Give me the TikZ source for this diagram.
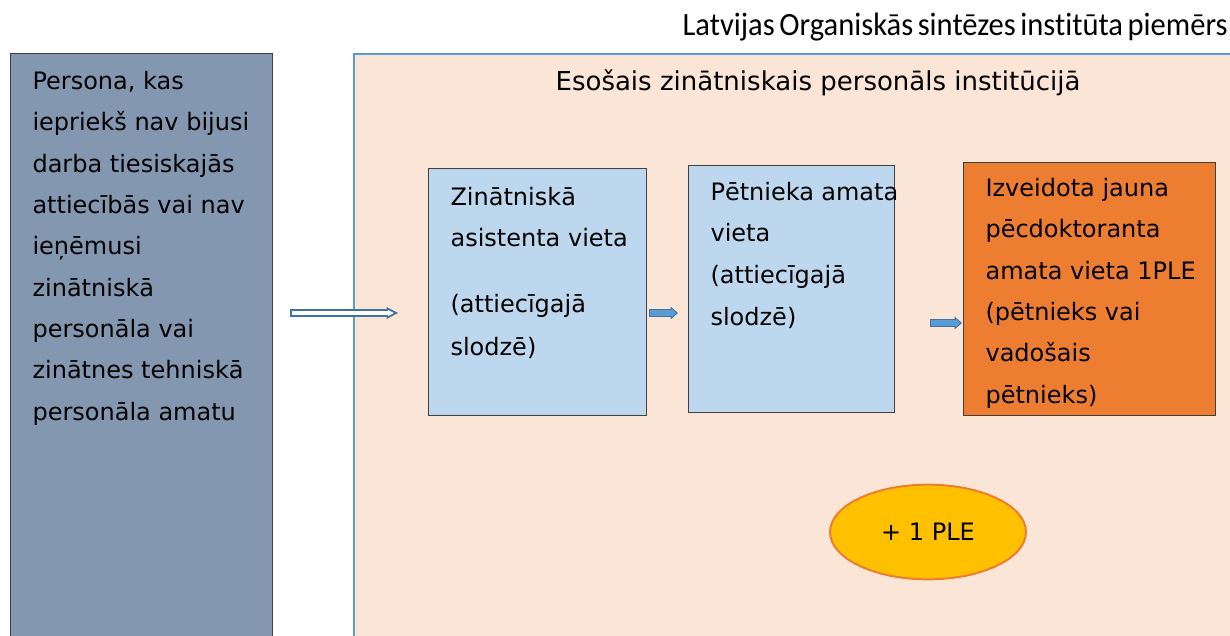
\documentclass[tikz,border=0pt]{standalone}
\usepackage{fontspec}
\usepackage{graphicx}
\usepackage{tikz}
\usepackage{xcolor}
\usetikzlibrary{arrows.meta,shapes.geometric}
\setmainfont{DejaVu Sans}
\newfontfamily\titlefont[Ligatures=NoCommon]{Carlito}
\definecolor{bluegray}{HTML}{8497B0}
\definecolor{peach}{HTML}{FBE5D6}
\definecolor{frameblue}{HTML}{5B9BD5}
\definecolor{lightblue}{HTML}{BDD7EE}
\definecolor{orangebox}{HTML}{ED7D31}
\definecolor{gold}{HTML}{FFC000}
\definecolor{arrowblue}{HTML}{41719C}
\newcommand{\boxtext}[4]{\hspace*{16.5pt}\parbox[t][#2][t]{#1}{\raggedright\rightskip=0pt plus 1fil minus 30pt\rule{0pt}{#3}#4}}

\begin{document}
\begin{tikzpicture}[x=0.75pt, y=-0.75pt,
  box/.style = {draw=black!75, line width=0.8pt, anchor=north west, inner sep=0pt, font=\fontsize{18pt}{31pt}\selectfont},
  frame/.style = {draw=frameblue, fill=peach, line width=1.5pt, anchor=north west, minimum width=720pt, minimum height=460pt},
  hollowout/.style = {draw=arrowblue, line width=5.6pt, -{Triangle[length=8.6pt, width=9pt, line width=0pt]}},
  hollowin/.style = {draw=white, line width=2.8pt, -{Triangle[length=4.4pt, width=4.6pt, line width=0pt]}},
  blueout/.style = {draw=arrowblue, line width=6.5pt, -{Triangle[length=5.5pt, width=9.5pt, line width=0pt]}},
  bluein/.style = {draw=frameblue, line width=4.5pt, -{Triangle[length=3pt, width=6.6pt, line width=0pt]}}]
\clip (0,0) rectangle (1230,635);
\node[frame] (2) at (353,53) {};
\node[font=\fontsize{19.5pt}{24pt}\selectfont, anchor=base, inner sep=0pt] (8) at (818,90) {Esošais zinātniskais personāls institūcijā};
\node[box, fill=bluegray] (1) at (10,53) {\boxtext{180pt}{441pt}{27pt}{Persona, kas\\ iepriekš nav bijusi\\ darba tiesiskajās\\ attiecībās vai nav\\ ieņēmusi\\ zinātniskā\\ personāla vai\\ zinātnes tehniskā\\ personāla amatu}};
\node[box, fill=lightblue] (3) at (428,168) {\boxtext{147pt}{185.25pt}{27.75pt}{Zinātniskā\\ asistenta vieta\\[18.5pt] (attiecīgajā\\[1.25pt] slodzē)}};
\node[box, fill=lightblue] (4) at (688,165) {\boxtext{138pt}{185.25pt}{26.25pt}{Pētnieka amata\\ vieta\\ (attiecīgajā\\[1pt] slodzē)}};
\node[box, fill=orangebox] (5) at (963,162) {\boxtext{172.5pt}{189.75pt}{25.5pt}{Izveidota jauna\\ pēcdoktoranta\\ amata vieta 1PLE\\ (pētnieks vai\\ vadošais\\ pētnieks)}};
\node[ellipse, draw=orangebox, fill=gold, line width=1.5pt, minimum width=147pt, minimum height=71pt, inner sep=0pt, font=\fontsize{18pt}{22pt}\selectfont] (6) at (928,532) {+ 1 PLE};
\node[anchor=base east, inner sep=0pt] (7) at (1228,36) {\resizebox{408.75pt}{16.9pt}{\titlefont\spaceskip=1.5pt Latvijas Organiskās sintēzes institūta piemērs}};
\coordinate (r1) at (0,313);
\coordinate (r2) at (0,323);
\draw[hollowout, shorten <=12.75pt, shorten >=22.5pt] (1.east |- r1) -- (3.west |- r1);
\draw[hollowin, shorten <=14.15pt, shorten >=25.6pt] (1.east |- r1) -- (3.west |- r1);
\draw[blueout, shorten <=1.5pt, shorten >=7.5pt] (3.east |- r1) -- (4.west |- r1);
\draw[bluein, shorten <=2.5pt, shorten >=9pt] (3.east |- r1) -- (4.west |- r1);
\draw[blueout, shorten <=26.25pt, shorten >=0.75pt] (4.east |- r2) -- (5.west |- r2);
\draw[bluein, shorten <=27.25pt, shorten >=2.25pt] (4.east |- r2) -- (5.west |- r2);
\end{tikzpicture}
\end{document}
